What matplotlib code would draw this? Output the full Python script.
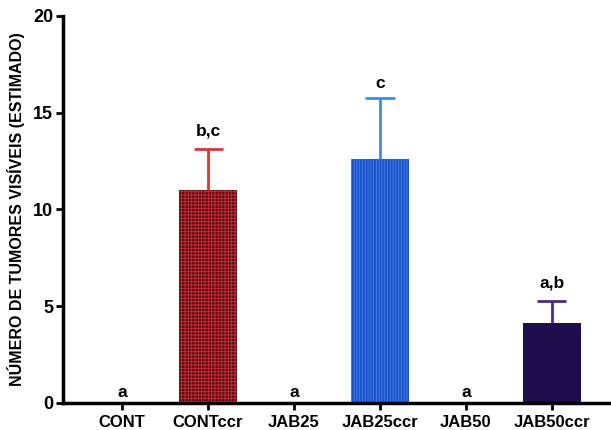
import matplotlib.pyplot as plt

plt.rcParams['font.family'] = ['Liberation Sans', 'DejaVu Sans']
plt.rcParams['font.weight'] = 'bold'
plt.rcParams['hatch.linewidth'] = 0.6

groups = ["CONT", "CONTccr", "JAB25", "JAB25ccr", "JAB50", "JAB50ccr"]
means = [0, 11.0, 0, 12.6, 0, 4.15]
sem = [0, 2.1, 0, 3.15, 0, 1.1]
letters = ["a", "b,c", "a", "c", "a", "a,b"]

bar_fc = ["white", "#5e0a10", "white", "#1a4fcc", "white", "#1e0d4c"]
hatch_c = ["white", "#c8303a", "white", "#4a8ae6", "white", "#1e0d4c"]
hatches = [None, "+++++", None, "||||||", None, None]
err_c = ["black", "#e0333c", "black", "#3a8fe8", "black", "#4a2a8c"]

fig = plt.figure(figsize=(6.11, 4.30), dpi=100)
ax = fig.add_axes([0.103, 0.063, 0.897, 0.900])

x = list(range(len(groups)))
cap = 0.17
for i in x:
    if means[i] > 0:
        ax.bar(i, means[i], width=0.68, color=bar_fc[i], edgecolor=hatch_c[i],
               hatch=hatches[i], linewidth=0, zorder=2)
        top = means[i] + sem[i]
        ax.vlines(i, means[i], top, color=err_c[i], lw=2, zorder=3)
        ax.hlines(top, i - cap, i + cap, color=err_c[i], lw=2, zorder=3)
        ty = top + 0.95 if letters[i] != "c" else top + 0.75
    else:
        ty = 0.55
    ax.text(i, ty, letters[i], ha="center", va="center", fontsize=12.5,
            fontweight="bold")

ax.set_xlim(-0.69, 5.69)
ax.set_ylim(0, 20)
ax.set_xticks(x)
ax.set_xticklabels(groups, fontsize=12, fontweight="bold")
ax.set_yticks([0, 5, 10, 15, 20])
ax.tick_params(axis="y", labelsize=13, width=2, length=5, pad=2)
ax.tick_params(axis="x", width=2, length=5, pad=4)
for lab in ax.get_yticklabels():
    lab.set_fontweight("bold")
ax.set_ylabel("NÚMERO DE TUMORES VISÍVEIS (ESTIMADO)", fontsize=11.5,
              fontweight="bold", labelpad=6)

ax.spines["top"].set_visible(False)
ax.spines["right"].set_visible(False)
ax.spines["left"].set_linewidth(2.5)
ax.spines["bottom"].set_linewidth(2.5)

fig.savefig("out.png", dpi=100, facecolor="white")
